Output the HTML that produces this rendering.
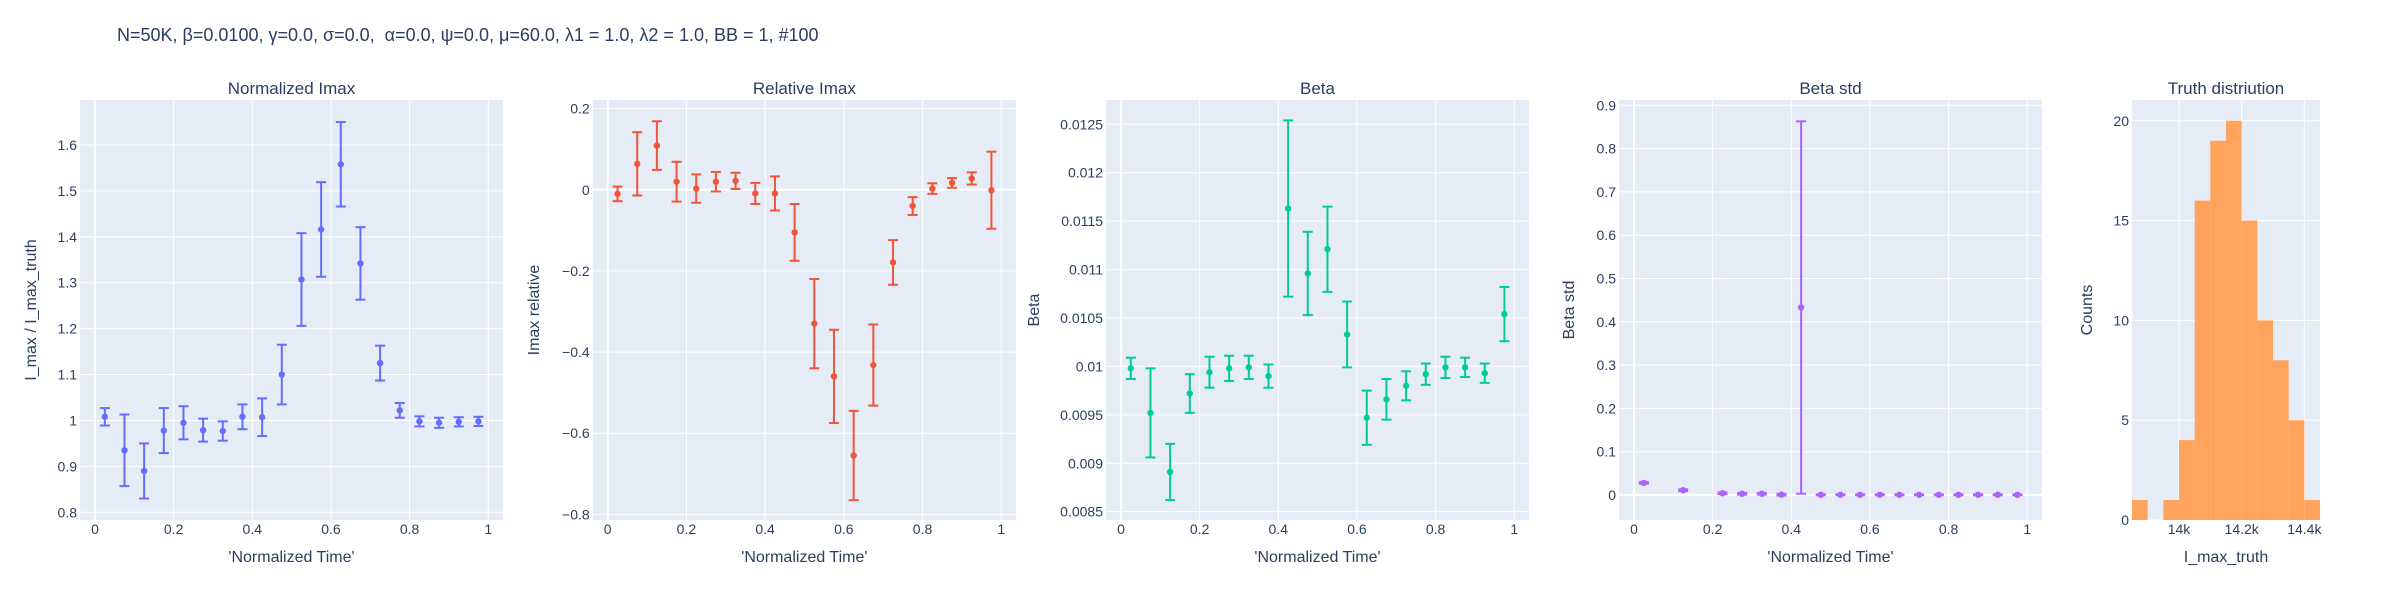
<!DOCTYPE html>
<html><head><meta charset="utf-8">
<style>
html,body{margin:0;padding:0;background:#fff;}
svg{display:block;font-family:"Liberation Sans",Arial,sans-serif;}
</style></head>
<body>
<svg id="fig" width="2400" height="600" viewBox="0 0 2400 600">
<text x="117" y="41" font-size="18" fill="#2a3f5f" style="white-space:pre">N=50K, β=0.0100, γ=0.0, σ=0.0,  α=0.0, ψ=0.0, μ=60.0, λ1 = 1.0, λ2 = 1.0, BB = 1, #100</text>
</svg>
<script>
// ---- data ----
const xTime = [0.025,0.075,0.125,0.175,0.225,0.275,0.325,0.375,0.425,0.475,0.525,0.575,0.625,0.675,0.725,0.775,0.825,0.875,0.925,0.975];
const imaxNorm = [1.008,0.935,0.89,0.978,0.995,0.979,0.977,1.008,1.007,1.1,1.307,1.416,1.558,1.342,1.125,1.022,0.998,0.995,0.997,0.998];
const imaxNormErr = [0.019,0.078,0.06,0.049,0.036,0.025,0.021,0.027,0.041,0.065,0.101,0.103,0.092,0.079,0.038,0.016,0.011,0.011,0.01,0.01];
const imaxRel = [-0.01,0.064,0.109,0.02,0.003,0.02,0.022,-0.009,-0.009,-0.105,-0.33,-0.46,-0.655,-0.432,-0.179,-0.04,0.003,0.017,0.028,-0.001];
const imaxRelErr = [0.018,0.078,0.06,0.049,0.035,0.024,0.02,0.026,0.042,0.07,0.11,0.115,0.11,0.1,0.055,0.022,0.013,0.012,0.015,0.095];
const betaVals = [0.00998,0.00952,0.00891,0.00972,0.00994,0.00998,0.00999,0.0099,0.01163,0.01096,0.01121,0.01033,0.00947,0.00966,0.0098,0.00992,0.00999,0.00999,0.00993,0.01054];
const betaErr = [0.00011,0.00046,0.00029,0.0002,0.00016,0.00013,0.00012,0.00012,0.00091,0.00043,0.00044,0.00034,0.00028,0.00021,0.00015,0.00011,0.00011,0.0001,0.0001,0.00028];
const xStd = [0.025,0.125,0.225,0.275,0.325,0.375,0.425,0.475,0.525,0.575,0.625,0.675,0.725,0.775,0.825,0.875,0.925,0.975];
const betaStd = [0.028,0.011,0.004,0.003,0.003,0.001,0.433,0.0005,0.0005,0.0005,0.0005,0.0005,0.0005,0.0005,0.0005,0.0005,0.0005,0.0005];
const betaStdErr = [0.002,0.002,0.002,0.002,0.002,0.002,0.43,0.001,0.001,0.001,0.001,0.001,0.001,0.001,0.001,0.001,0.001,0.001];
const histStart = 13850, histBin = 50;
const histCounts = [1,0,1,4,16,19,20,15,10,8,5,1];
const xTicks = [0,0.2,0.4,0.6,0.8,1];
const xTickLabels = ["0","0.2","0.4","0.6","0.8","1"];
const p1Ticks = [0.8,0.9,1,1.1,1.2,1.3,1.4,1.5,1.6];
const p1Labels = ["0.8","0.9","1","1.1","1.2","1.3","1.4","1.5","1.6"];
const p2Ticks = [-0.8,-0.6,-0.4,-0.2,0,0.2];
const p2Labels = ["−0.8","−0.6","−0.4","−0.2","0","0.2"];
const p3Ticks = [0.0085,0.009,0.0095,0.01,0.0105,0.011,0.0115,0.012,0.0125];
const p3Labels = ["0.0085","0.009","0.0095","0.01","0.0105","0.011","0.0115","0.012","0.0125"];
const p4Ticks = [0,0.1,0.2,0.3,0.4,0.5,0.6,0.7,0.8,0.9];
const p4Labels = ["0","0.1","0.2","0.3","0.4","0.5","0.6","0.7","0.8","0.9"];
const p5YTicks = [0,5,10,15,20];
const p5YLabels = ["0","5","10","15","20"];
const p5XTicks = [14000,14200,14400];
const p5XLabels = ["14k","14.2k","14.4k"];

const NS = "http://www.w3.org/2000/svg";
const svg = document.getElementById('fig');
const TXT = "#2a3f5f";
function el(tag, attrs, parent){
  const e = document.createElementNS(NS, tag);
  for (const k in attrs) e.setAttribute(k, attrs[k]);
  (parent||svg).appendChild(e);
  return e;
}
function lin(d0,d1,r0,r1){ return v => r0 + (v-d0)/(d1-d0)*(r1-r0); }

function panel(o){
  const g = el('g', {});
  
  
  const T = 100, B = 520;
  const bg = el('rect', {x:o.L, y:T, width:o.R-o.L, height:B-T, fill:"#E5ECF6"}, g);
  
  
  const sx = lin(o.xr[0], o.xr[1], o.L, o.R);
  const sy = lin(o.yr[0], o.yr[1], B, T);
  o.xt.forEach((v,i)=>{
    const X = sx(v);
    const gl = el('line', {x1:X, x2:X, y1:T, y2:B, stroke:"#fff", "stroke-width": (v===0 && !o.hist)?2:1}, g);
    
    
    const t = el('text', {x:X, y:B+14, "font-size":14, fill:TXT, "text-anchor":"middle"}, g);
    t.textContent = o.xl[i];
    
    
  });
  o.yt.forEach((v,i)=>{
    const Y = sy(v);
    const gl = el('line', {x1:o.L, x2:o.R, y1:Y, y2:Y, stroke:"#fff", "stroke-width": (v===0 && !o.hist)?2:1}, g);
    
    
    const t = el('text', {x:o.L-3, y:Y+5, "font-size":14, fill:TXT, "text-anchor":"end"}, g);
    t.textContent = o.yl[i];
    
    
  });
  if (o.hist){
    o.counts.forEach((c,i)=>{
      if (c<=0) return;
      const x0 = sx(histStart + i*histBin), x1 = sx(histStart + (i+1)*histBin);
      const r = el('rect', {x:x0, y:sy(c), width:x1-x0, height:sy(0)-sy(c), fill:o.color, "fill-opacity":0.98}, g);
      
      
    });
  } else {
    o.xs.forEach((xv,i)=>{
      const X = sx(xv), yv = o.ys[i], e = o.es[i];
      const y1 = sy(yv+e), y2 = sy(yv-e);
      const eg = el('g', {stroke:o.color, "stroke-width":2}, g);
      
      
      el('line', {x1:X, x2:X, y1:y1, y2:y2}, eg);
      el('line', {x1:X-5, x2:X+5, y1:y1, y2:y1}, eg);
      el('line', {x1:X-5, x2:X+5, y1:y2, y2:y2}, eg);
      const c = el('circle', {cx:X, cy:sy(yv), r:3.2, fill:o.color}, g);
      
      
    });
  }
  const cx = (o.L+o.R)/2;
  const st = el('text', {x:cx, y:94, "font-size":17, fill:TXT, "text-anchor":"middle"}, g);
  st.textContent = o.title;
  
  
  const xt = el('text', {x:cx, y:562, "font-size":16, fill:TXT, "text-anchor":"middle"}, g);
  xt.textContent = o.xtitle;
  
  
  const yt = el('text', {x:o.ytx, y:310, "font-size":16, fill:TXT, "text-anchor":"middle", transform:`rotate(-90 ${o.ytx} 310)`}, g);
  yt.textContent = o.ytitle;
  
  
}
const xr = [-0.0381, 1.0375];
panel({name:'normalized-imax-panel', L:80, R:503, xr:xr, yr:[0.7832,1.698], xt:xTicks, xl:xTickLabels, yt:p1Ticks, yl:p1Labels,
  xs:xTime, ys:imaxNorm, es:imaxNormErr, color:"#636efa", title:"Normalized Imax", xtitle:"'Normalized Time'", ytitle:"I_max / I_max_truth", ytx:36});
panel({name:'relative-imax-panel', L:592.7, R:1016, xr:xr, yr:[-0.814,0.2214], xt:xTicks, xl:xTickLabels, yt:p2Ticks, yl:p2Labels,
  xs:xTime, ys:imaxRel, es:imaxRelErr, color:"#EF553B", title:"Relative Imax", xtitle:"'Normalized Time'", ytitle:"Imax relative", ytx:539});
panel({name:'beta-panel', L:1106, R:1529, xr:xr, yr:[0.008414,0.012751], xt:xTicks, xl:xTickLabels, yt:p3Ticks, yl:p3Labels,
  xs:xTime, ys:betaVals, es:betaErr, color:"#00cc96", title:"Beta", xtitle:"'Normalized Time'", ytitle:"Beta", ytx:1039});
panel({name:'beta-std-panel', L:1619, R:2042, xr:xr, yr:[-0.0577,0.9122], xt:xTicks, xl:xTickLabels, yt:p4Ticks, yl:p4Labels,
  xs:xStd, ys:betaStd, es:betaStdErr, color:"#ab63fa", title:"Beta std", xtitle:"'Normalized Time'", ytitle:"Beta std", ytx:1574});
panel({name:'truth-distribution-panel', hist:true, L:2132, R:2320, xr:[13850,14450], yr:[0,21.04], xt:p5XTicks, xl:p5XLabels, yt:p5YTicks, yl:p5YLabels,
  counts:histCounts, color:"#FFA15A", title:"Truth distriution", xtitle:"I_max_truth", ytitle:"Counts", ytx:2092});
</script>
</body></html>
